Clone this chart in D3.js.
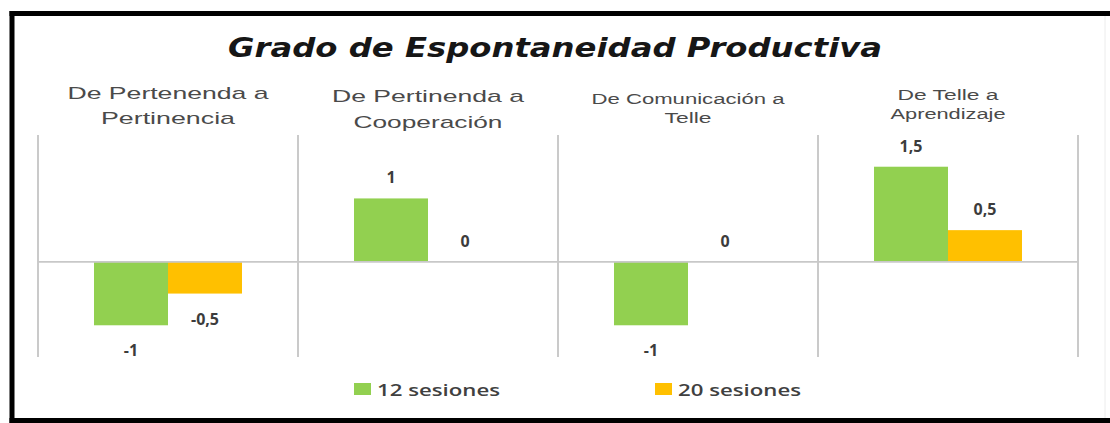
<!DOCTYPE html>
<html>
<head>
<meta charset="utf-8">
<script src="https://cdn.jsdelivr.net/npm/d3@7"></script>
<style>
  body { margin: 0; background: #fff; }
  svg { display: block; }
</style>
</head>
<body>
<svg id="chart" width="1110" height="423"></svg>
<script>
var categories = [
  ["De Pertenenda a", "Pertinencia"],
  ["De Pertinenda a", "Cooperación"],
  ["De Comunicación a", "Telle"],
  ["De Telle a", "Aprendizaje"]
];
var seriesNames = ["12 sesiones", "20 sesiones"];
var sessions12 = [-1, 1, -1, 1.5];
var sessions20 = [-0.5, 0, 0, 0.5];

var colors = ["#92D050", "#FFC000"];
// label widths in the picture (text is stretched), line 1 / line 2
var labelWidths = [[201, 134], [192, 149], [193, 47], [101, 115]];
var labelSizes = [17, 17, 15.5, 15.5];
var labelBase = [[99, 124], [102, 128], [104, 123], [100, 119]];

var fmt = d3.formatLocale({decimal: ",", thousands: ".", grouping: [3], currency: ["", "€"], minus: "-"}).format("~g");

var svg = d3.select("#chart");

// frame: black on top, left and bottom, faint on the right
var frame = svg.append("g").attr("stroke", "#000").attr("stroke-width", 5);
frame.append("line").attr("x1", 9.5).attr("x2", 1110).attr("y1", 13.5).attr("y2", 13.5);
frame.append("line").attr("x1", 12).attr("x2", 12).attr("y1", 11).attr("y2", 423);
frame.append("line").attr("x1", 9.5).attr("x2", 1110).attr("y1", 420.5).attr("y2", 420.5);
svg.append("line")
  .attr("x1", 1105).attr("x2", 1105).attr("y1", 16).attr("y2", 418)
  .attr("stroke", "#ececec").attr("stroke-width", 1);

var x = d3.scaleBand().domain(d3.range(categories.length)).range([38, 1078]);
var x1 = d3.scaleBand().domain([0, 1]).range([0, x.bandwidth()]).paddingInner(0).paddingOuter(0.757);
var y = d3.scaleLinear().domain([-1.5, 2]).range([357, 135]);

var data = categories.map(function(c, i) {
  return {i: i, label: c, values: [sessions12[i], sessions20[i]]};
});

// panel dividers
var edges = d3.range(categories.length + 1);
svg.append("g").selectAll("line")
  .data(edges)
  .enter().append("line")
  .attr("x1", function(d) { return d < categories.length ? x(d) : x.range()[1]; })
  .attr("x2", function(d) { return d < categories.length ? x(d) : x.range()[1]; })
  .attr("y1", y(2)).attr("y2", y(-1.5))
  .attr("stroke", "#bdbdbd").attr("stroke-width", 1.6);

var panels = svg.append("g").selectAll("g.panel")
  .data(data)
  .enter().append("g")
  .attr("class", "panel")
  .attr("transform", function(d) { return "translate(" + x(d.i) + ",0)"; });

panels.selectAll("rect")
  .data(function(d) { return d.values.map(function(v, s) { return {v: v, s: s}; }); })
  .enter().append("rect")
  .attr("x", function(d) { return x1(d.s); })
  .attr("width", x1.bandwidth())
  .attr("y", function(d) { return y(Math.max(0, d.v)); })
  .attr("height", function(d) { return Math.abs(y(d.v) - y(0)); })
  .attr("fill", function(d) { return colors[d.s]; });

panels.selectAll("text.value")
  .data(function(d) { return d.values.map(function(v, s) { return {v: v, s: s}; }); })
  .enter().append("text")
  .attr("class", "value")
  .attr("x", function(d) { return x1(d.s) + x1.bandwidth() / 2; })
  .attr("y", function(d) { return d.v < 0 ? y(d.v) + 31 : y(d.v) - 15; })
  .attr("text-anchor", "middle")
  .attr("font-family", "'Open Sans', sans-serif")
  .attr("font-weight", 700)
  .attr("font-size", 16)
  .attr("fill", "#3c3c3c")
  .text(function(d) { return fmt(d.v); });

panels.each(function(d) {
  var g = d3.select(this);
  d.label.forEach(function(line, k) {
    g.append("text")
      .attr("x", x.bandwidth() / 2)
      .attr("y", labelBase[d.i][k])
      .attr("text-anchor", "middle")
      .attr("font-family", "'Liberation Sans', Arial, sans-serif")
      .attr("font-size", labelSizes[d.i])
      .attr("fill", "#4a4a4a")
      .attr("textLength", labelWidths[d.i][k])
      .attr("lengthAdjust", "spacingAndGlyphs")
      .text(line);
  });
});

// zero line
svg.append("line")
  .attr("x1", x.range()[0]).attr("x2", x.range()[1])
  .attr("y1", y(0)).attr("y2", y(0))
  .attr("stroke", "#c8c8c8").attr("stroke-width", 1.6);

// title
svg.append("text")
  .attr("x", 228).attr("y", 57)
  .attr("font-family", "'DejaVu Sans', sans-serif")
  .attr("font-weight", 700)
  .attr("font-style", "italic")
  .attr("font-size", 27)
  .attr("fill", "#161616")
  .attr("textLength", 654)
  .attr("lengthAdjust", "spacingAndGlyphs")
  .text("Grado de Espontaneidad Productiva");

// legend
var legendX = [354, 655];
var legend = svg.append("g").selectAll("g")
  .data(seriesNames)
  .enter().append("g")
  .attr("transform", function(d, i) { return "translate(" + legendX[i] + ",383)"; });
legend.append("rect")
  .attr("width", 17).attr("height", 12)
  .attr("fill", function(d, i) { return colors[i]; });
legend.append("text")
  .attr("x", 23).attr("y", 13)
  .attr("font-family", "'Open Sans', sans-serif")
  .attr("font-weight", 600)
  .attr("font-size", 17)
  .attr("fill", "#404040")
  .attr("textLength", 123)
  .attr("lengthAdjust", "spacingAndGlyphs")
  .text(function(d) { return d; });
</script>
</body>
</html>
